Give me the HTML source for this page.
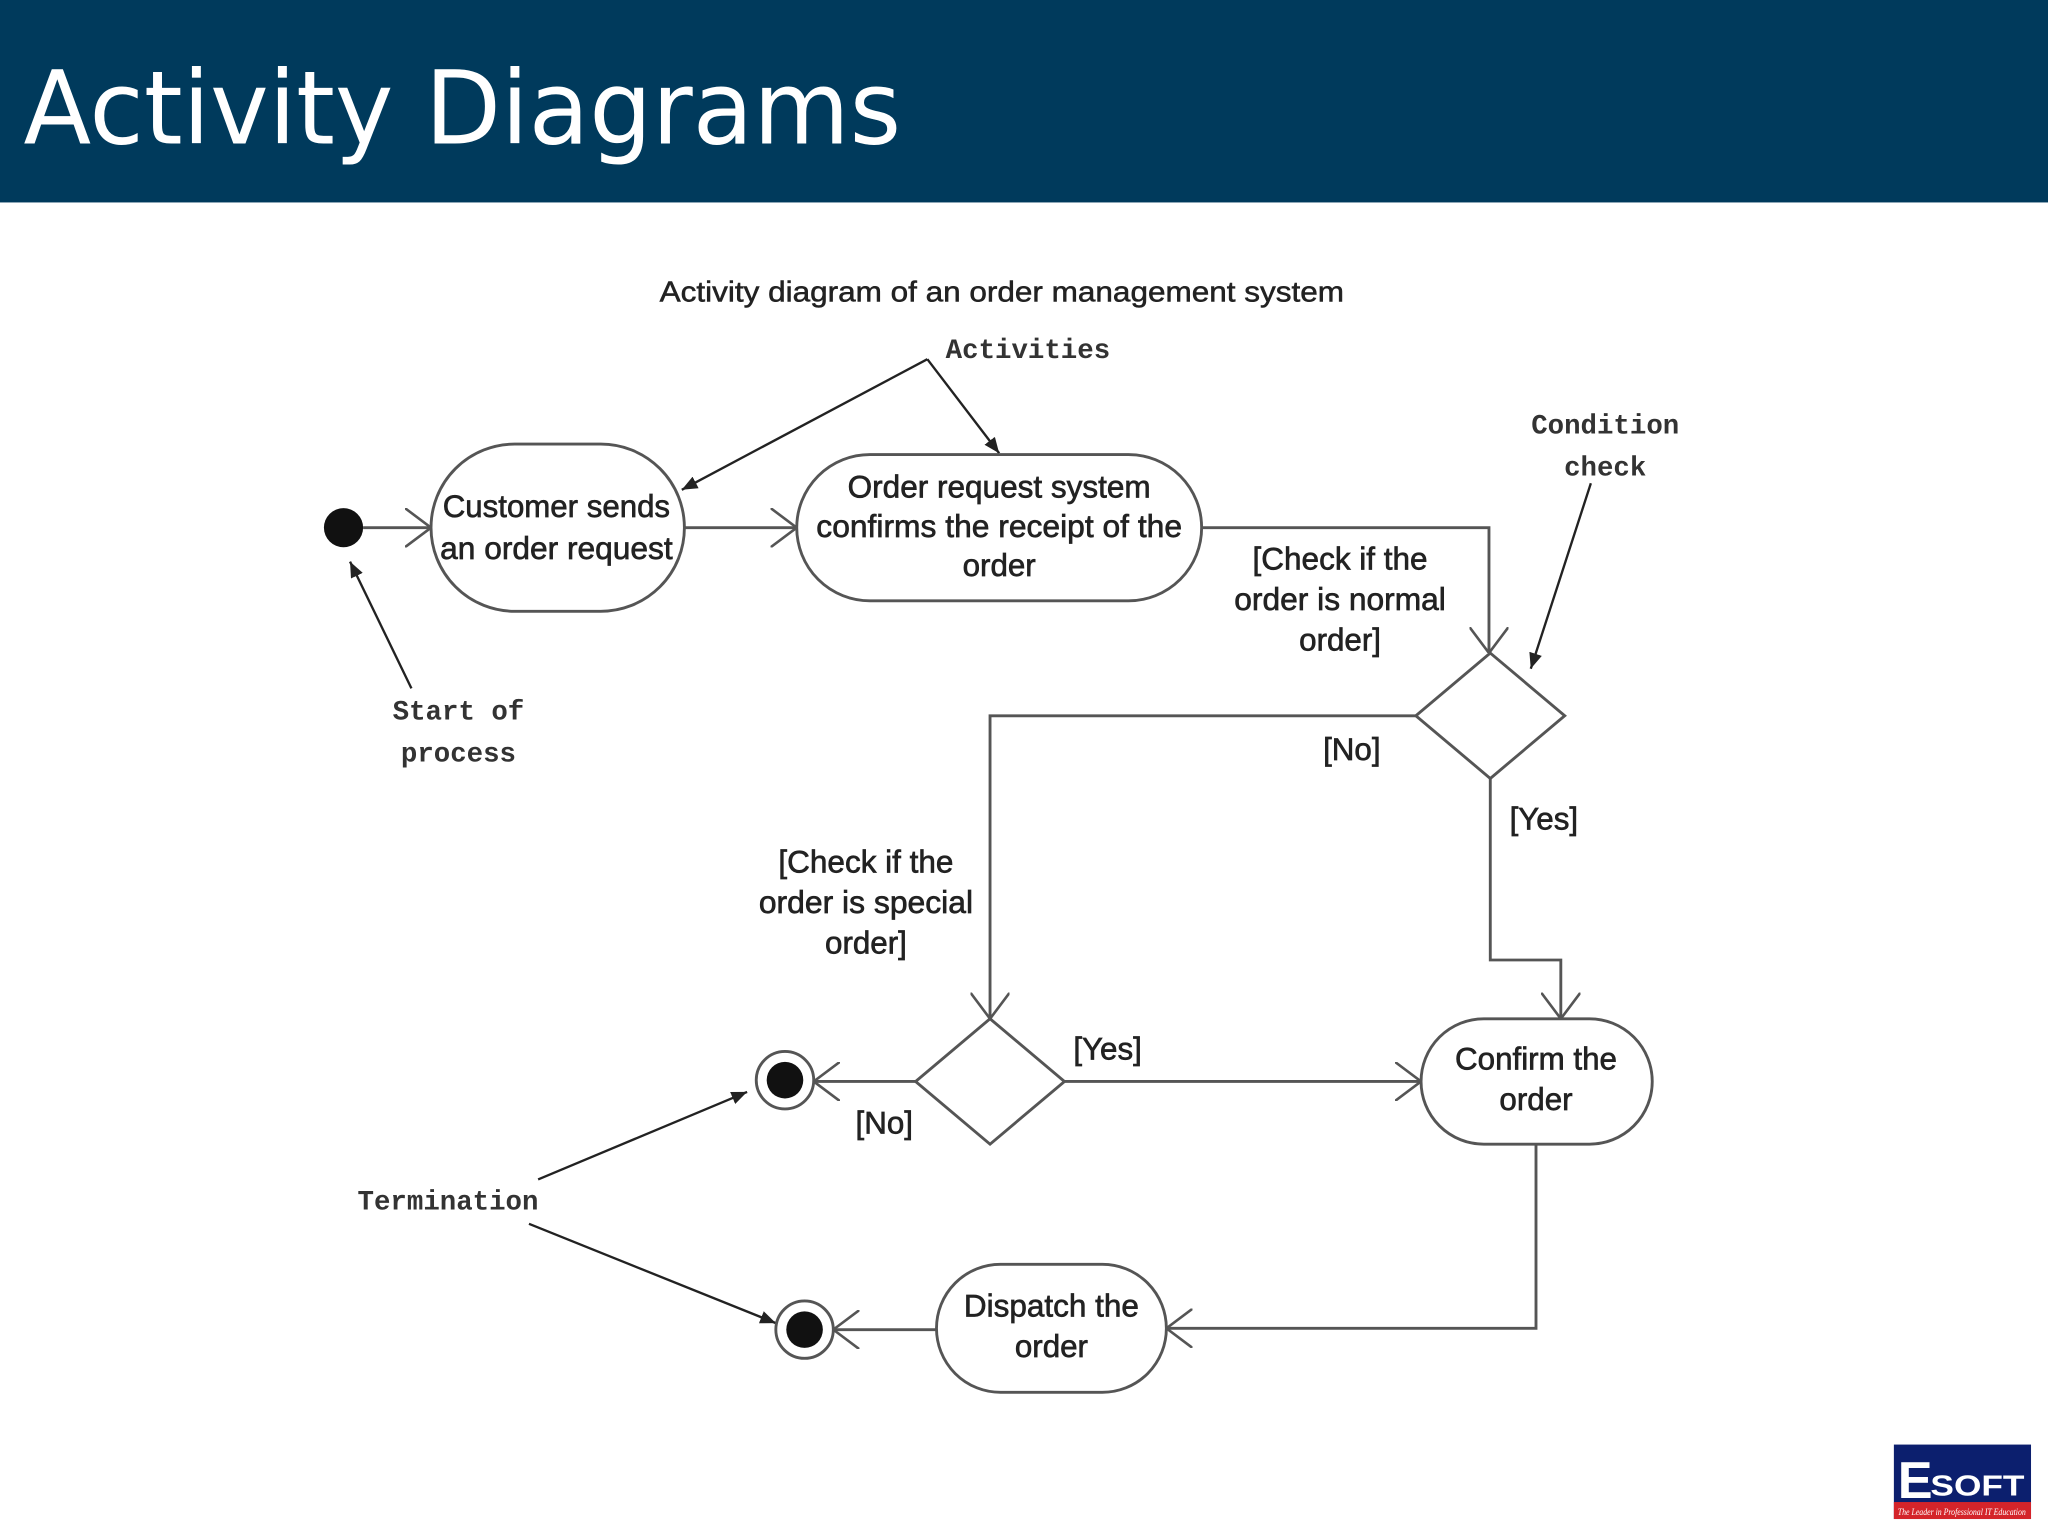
<!DOCTYPE html>
<html><head><meta charset="utf-8"><style>html,body{margin:0;padding:0;background:#fff}svg{display:block}</style></head>
<body>
<svg width="2048" height="1536" viewBox="0 0 1568 1176" xmlns="http://www.w3.org/2000/svg">
<defs>
<marker id="op" viewBox="0 0 20 30" refX="20" refY="15" markerWidth="20" markerHeight="30" markerUnits="userSpaceOnUse" orient="auto"><path d="M0,0 L20,15 L0,30" fill="none" stroke="#555" stroke-width="2"/></marker>
<marker id="fa" viewBox="0 0 12 10" refX="12" refY="5" markerWidth="12" markerHeight="10" markerUnits="userSpaceOnUse" orient="auto"><path d="M0,0 L12,5 L0,10 z" fill="#222"/></marker>
</defs>
<rect x="0" y="0" width="1568" height="155" fill="#003a5c"/>
<text x="18" y="110" fill="#fff" font-family="DejaVu Sans, Liberation Sans, sans-serif" font-size="78" textLength="672" lengthAdjust="spacingAndGlyphs">Activity Diagrams</text>
<g font-family="Liberation Sans, sans-serif" fill="#222">
<text x="767" y="231" font-size="22" text-anchor="middle" textLength="524" lengthAdjust="spacingAndGlyphs" stroke="#222" stroke-width="0.4">Activity diagram of an order management system</text>
</g>
<g font-family="Liberation Mono, monospace" font-size="21" font-weight="bold" fill="#333" text-anchor="middle">
<text x="787" y="274">Activities</text>
<text x="1229" y="332">Condition</text>
<text x="1229" y="364">check</text>
<text x="351" y="551">Start of</text>
<text x="351" y="583">process</text>
<text x="343" y="926">Termination</text>
</g>
<g stroke="#222" stroke-width="1.8" fill="none">
<line x1="710" y1="275" x2="522" y2="375" marker-end="url(#fa)"/>
<line x1="710" y1="275" x2="765" y2="347" marker-end="url(#fa)"/>
<line x1="1218" y1="370" x2="1172" y2="512" marker-end="url(#fa)"/>
<line x1="315" y1="527" x2="268" y2="430" marker-end="url(#fa)"/>
<line x1="412" y1="903" x2="572" y2="836" marker-end="url(#fa)"/>
<line x1="405" y1="937" x2="594" y2="1013" marker-end="url(#fa)"/>
</g>
<g stroke="#555" stroke-width="2.2" fill="none">
<line x1="278" y1="404" x2="330" y2="404" marker-end="url(#op)"/>
<line x1="524" y1="404" x2="610" y2="404" marker-end="url(#op)"/>
<polyline points="920,404 1140,404 1140,500" marker-end="url(#op)"/>
<polyline points="1084,548 758,548 758,780" marker-end="url(#op)"/>
<polyline points="1141,596 1141,735 1195,735 1195,780" marker-end="url(#op)"/>
<line x1="815" y1="828" x2="1088" y2="828" marker-end="url(#op)"/>
<line x1="701" y1="828" x2="623" y2="828" marker-end="url(#op)"/>
<polyline points="1176,876 1176,1017 893,1017" marker-end="url(#op)"/>
<line x1="717" y1="1018" x2="638" y2="1018" marker-end="url(#op)"/>
<rect x="330" y="340" width="194" height="128" rx="64" ry="64"/>
<rect x="610" y="348" width="310" height="112" rx="56" ry="56"/>
<rect x="1088" y="780" width="177" height="96" rx="48" ry="48"/>
<rect x="717" y="968" width="176" height="98" rx="49" ry="49"/>
<polygon points="1141,500 1198,548 1141,596 1084,548"/>
<polygon points="758,780 815,828 758,876 701,828"/>
<circle cx="601" cy="827" r="22"/>
<circle cx="616" cy="1018" r="22"/>
</g>
<circle cx="263" cy="404" r="15" fill="#111"/>
<circle cx="601" cy="827" r="14" fill="#111"/>
<circle cx="616" cy="1018" r="14" fill="#111"/>
<g font-family="Liberation Sans, sans-serif" font-size="24" fill="#222" text-anchor="middle" stroke="#222" stroke-width="0.5">
<text x="426" y="396" textLength="174" lengthAdjust="spacingAndGlyphs">Customer sends</text>
<text x="426" y="428" textLength="178" lengthAdjust="spacingAndGlyphs">an order request</text>
<text x="765" y="381" textLength="232" lengthAdjust="spacingAndGlyphs">Order request system</text>
<text x="765" y="411" textLength="280" lengthAdjust="spacingAndGlyphs">confirms the receipt of the</text>
<text x="765" y="441">order</text>
<text x="1026" y="436" textLength="134" lengthAdjust="spacingAndGlyphs">[Check if the</text>
<text x="1026" y="467" textLength="162" lengthAdjust="spacingAndGlyphs">order is normal</text>
<text x="1026" y="498">order]</text>
<text x="1035" y="582">[No]</text>
<text x="1182" y="635">[Yes]</text>
<text x="663" y="668" textLength="134" lengthAdjust="spacingAndGlyphs">[Check if the</text>
<text x="663" y="699" textLength="164" lengthAdjust="spacingAndGlyphs">order is special</text>
<text x="663" y="730">order]</text>
<text x="848" y="811">[Yes]</text>
<text x="677" y="868">[No]</text>
<text x="1176" y="819" textLength="124" lengthAdjust="spacingAndGlyphs">Confirm the</text>
<text x="1176" y="850">order</text>
<text x="805" y="1008" textLength="134" lengthAdjust="spacingAndGlyphs">Dispatch the</text>
<text x="805" y="1039">order</text>
</g>
<rect x="1450" y="1106" width="105" height="57" fill="#0c1f6e"/>
<rect x="1450" y="1150" width="105" height="13" fill="#d4242a"/>
<text x="1453" y="1147" font-family="Liberation Sans, sans-serif" font-weight="bold" font-size="40" fill="#fff">E</text>
<text x="1478" y="1145" font-family="Liberation Sans, sans-serif" font-weight="bold" font-size="22" fill="#fff" textLength="72" lengthAdjust="spacingAndGlyphs">SOFT</text>
<text x="1502" y="1160" font-family="Liberation Serif, serif" font-style="italic" font-size="7" fill="#fff" text-anchor="middle" textLength="98" lengthAdjust="spacingAndGlyphs">The Leader in Professional IT Education</text>
</svg>
</body></html>
